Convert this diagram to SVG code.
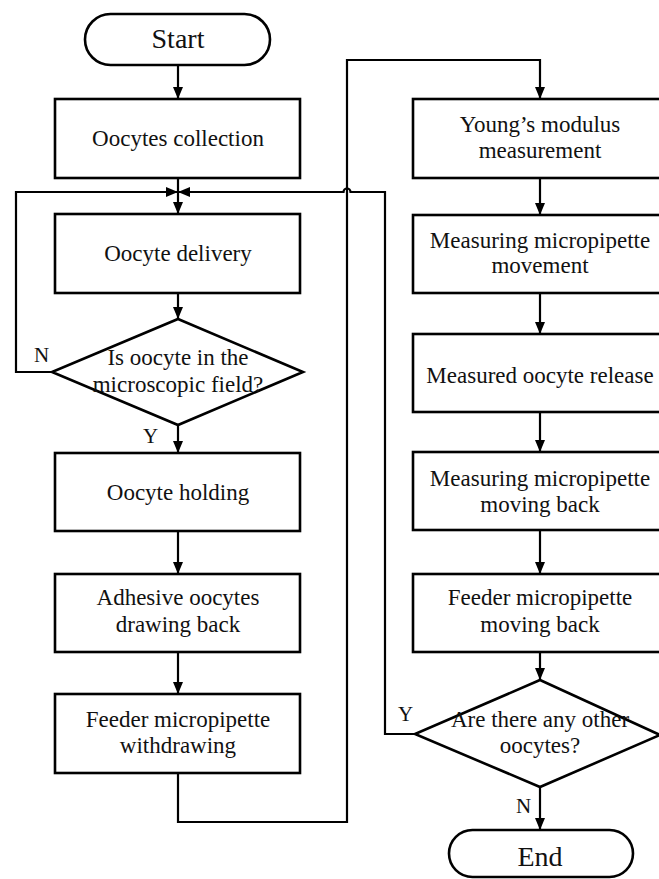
<svg xmlns="http://www.w3.org/2000/svg" width="659" height="879" viewBox="0 0 659 879">
<style>
.s{fill:#fff;stroke:#000;stroke-width:2.6}
.c{fill:none;stroke:#000;stroke-width:2.2}
.t{font-family:"Liberation Serif","Times New Roman",serif;font-size:23px;fill:#111;text-anchor:middle}
.b{font-size:28px}
.l{font-family:"Liberation Serif","Times New Roman",serif;font-size:21px;fill:#111}
</style>
<defs>
<marker id="a" viewBox="0 0 12 10" refX="12" refY="5" markerWidth="12" markerHeight="10" markerUnits="userSpaceOnUse" orient="auto">
<path d="M0,0L12,5L0,10z" fill="#000"/>
</marker>
</defs>
<rect width="659" height="879" fill="#fff"/>
<g id="connectors">
<line class="c" x1="178" y1="65" x2="178" y2="99" marker-end="url(#a)"/>
<line class="c" x1="178" y1="178" x2="178" y2="214" marker-end="url(#a)"/>
<line class="c" x1="178" y1="293" x2="178" y2="319" marker-end="url(#a)"/>
<polyline class="c" points="52,372 16,372 16,192 178,192" marker-end="url(#a)"/>
<path class="c" d="M415,734 H385 V192 H350.5 A3.5,3.5 0 0 0 343.5,192 H178" marker-end="url(#a)"/>
<line class="c" x1="178" y1="425" x2="178" y2="453" marker-end="url(#a)"/>
<line class="c" x1="178" y1="531" x2="178" y2="574" marker-end="url(#a)"/>
<line class="c" x1="178" y1="652" x2="178" y2="694" marker-end="url(#a)"/>
<polyline class="c" points="178,773 178,822 347,822 347,60 540,60 540,99" marker-end="url(#a)"/>
<line class="c" x1="540" y1="178" x2="540" y2="215" marker-end="url(#a)"/>
<line class="c" x1="540" y1="293" x2="540" y2="334" marker-end="url(#a)"/>
<line class="c" x1="540" y1="412" x2="540" y2="452" marker-end="url(#a)"/>
<line class="c" x1="540" y1="530" x2="540" y2="574" marker-end="url(#a)"/>
<line class="c" x1="540" y1="652" x2="540" y2="680" marker-end="url(#a)"/>
<line class="c" x1="540" y1="787" x2="540" y2="830" marker-end="url(#a)"/>
<text class="l" x="34" y="362">N</text>
<text class="l" x="143" y="443">Y</text>
<text class="l" x="398" y="721">Y</text>
<text class="l" x="516" y="813">N</text>
</g>
<g id="start"><rect class="s" x="85" y="14" width="185" height="51" rx="25.5"/><text class="t b" x="178" y="48">Start</text></g>
<g id="collection"><rect class="s" x="55" y="99" width="245" height="79"/><text class="t" x="178" y="146">Oocytes collection</text></g>
<g id="delivery"><rect class="s" x="55" y="214" width="245" height="79"/><text class="t" x="178" y="261">Oocyte delivery</text></g>
<g id="inField"><polygon class="s" points="178,319 303,372 178,425 52,372"/><text class="t" x="178" y="365">Is oocyte in the</text><text class="t" x="178" y="392">microscopic field?</text></g>
<g id="holding"><rect class="s" x="55" y="453" width="245" height="78"/><text class="t" x="178" y="500">Oocyte holding</text></g>
<g id="adhesive"><rect class="s" x="55" y="574" width="245" height="78"/><text class="t" x="178" y="605">Adhesive oocytes</text><text class="t" x="178" y="632">drawing back</text></g>
<g id="withdrawing"><rect class="s" x="55" y="694" width="245" height="79"/><text class="t" x="178" y="727">Feeder micropipette</text><text class="t" x="178" y="753">withdrawing</text></g>
<g id="young"><rect class="s" x="413" y="99" width="260" height="79"/><text class="t" x="540" y="132">Young’s modulus</text><text class="t" x="540" y="158">measurement</text></g>
<g id="movement"><rect class="s" x="413" y="215" width="260" height="78"/><text class="t" x="540" y="248">Measuring micropipette</text><text class="t" x="540" y="273">movement</text></g>
<g id="release"><rect class="s" x="413" y="334" width="260" height="78"/><text class="t" x="540" y="383">Measured oocyte release</text></g>
<g id="measBack"><rect class="s" x="413" y="452" width="260" height="78"/><text class="t" x="540" y="486">Measuring micropipette</text><text class="t" x="540" y="512">moving back</text></g>
<g id="feederBack"><rect class="s" x="413" y="574" width="260" height="78"/><text class="t" x="540" y="605">Feeder micropipette</text><text class="t" x="540" y="632">moving back</text></g>
<g id="others"><polygon class="s" points="540,680 660,735 540,787 415,734"/><text class="t" x="540" y="727">Are  there any other</text><text class="t" x="540" y="753">oocytes?</text></g>
<g id="end"><rect class="s" x="449" y="830" width="184" height="47" rx="23.5"/><text class="t b" x="540" y="866">End</text></g>
</svg>
